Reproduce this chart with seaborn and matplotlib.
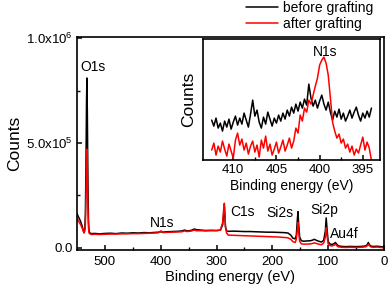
import numpy as np
import pandas as pd
import matplotlib
matplotlib.use('Agg')
import matplotlib.pyplot as plt
import seaborn as sns

# survey spectrum (binding energy in eV, counts)
be_survey = [550, 547, 544, 541, 539, 537.5, 536, 535, 534, 533, 532.3, 531.5, 530.5, 529.5,
             528.5, 527, 524, 518, 510, 500, 490, 480, 470, 460, 450, 440, 430, 420, 410,
             404, 401, 399, 396, 390, 380, 370, 362, 357, 353, 346, 340, 336, 328, 320, 310,
             300, 293, 289, 287, 286, 285, 284, 282, 279, 270, 260, 250, 240, 230, 220, 210,
             200, 190, 180, 172, 167, 163, 159, 157, 155, 154, 153, 151, 148, 144, 138, 132,
             128, 125, 121, 116, 112, 108, 105, 103.5, 102, 100, 97, 93, 89, 87, 85, 82, 76,
             68, 60, 50, 40, 33, 30, 28, 26, 23, 18, 12, 6, 2]
before_survey = [162000, 145000, 128000, 105000, 85000, 72000, 90000, 160000, 380000, 690000,
                 810000, 640000, 320000, 130000, 80000, 70000, 67000, 68000, 66000, 68000,
                 69000, 67000, 70000, 69000, 71000, 70000, 72000, 71000, 73000, 74000, 76000,
                 75000, 74000, 76000, 77000, 78000, 80000, 84000, 80000, 82000, 89000, 86000,
                 84000, 82000, 83000, 82000, 84000, 110000, 170000, 195000, 150000, 100000,
                 80000, 78000, 79000, 78000, 77000, 77000, 76000, 75000, 74000, 74000, 73000,
                 72000, 70000, 60000, 45000, 42000, 60000, 140000, 172000, 120000, 50000,
                 33000, 31000, 32000, 33000, 36000, 40000, 35000, 30000, 27000, 35000, 80000,
                 142000, 90000, 30000, 18000, 15000, 20000, 25000, 18000, 9000, 6000, 5000,
                 6000, 5000, 6000, 8000, 14000, 25000, 14000, 7000, 6000, 7000, 5000, 4000]
after_survey = [140000, 125000, 112000, 95000, 80000, 70000, 80000, 110000, 230000, 410000,
                470000, 380000, 190000, 95000, 70000, 66000, 63000, 64000, 63000, 64000,
                65000, 65000, 66000, 66000, 67000, 67000, 68000, 69000, 70000, 71000, 78000,
                80000, 72000, 73000, 74000, 75000, 76000, 80000, 77000, 79000, 84000, 81000,
                81000, 80000, 81000, 81000, 84000, 120000, 190000, 212000, 165000, 100000,
                70000, 60000, 59000, 58000, 57000, 56000, 55000, 54000, 53000, 52000, 51000,
                49000, 47000, 40000, 28000, 25000, 40000, 90000, 120000, 80000, 30000,
                18000, 17000, 17000, 18000, 20000, 23000, 20000, 16000, 14000, 22000, 50000,
                95000, 60000, 18000, 10000, 8000, 13000, 17000, 11000, 4000, 2000, 1000,
                2000, 1000, 2000, 4000, 9000, 17000, 9000, 3000, 2000, 3000, 1000, 0]

# N1s detail (412.5 eV down to 394.0 eV, 0.25 eV step)
be_n1s = np.arange(412.5, 393.9, -0.25)
before_n1s = [59000, 58400, 59200, 58200, 58700, 57900, 58900, 58300, 59100, 58100,
              58800, 59400, 58500, 59200, 58600, 59700, 59000, 58300, 59600, 61000,
              59400, 60000, 58800, 58200, 59300, 58600, 59800, 59100, 58400, 59200,
              58700, 59500, 58900, 59700, 59100, 60000, 59400, 60300, 59700, 60600,
              59900, 60800, 60200, 61100, 60500, 62600, 61200, 60400, 61000, 60200,
              60900, 61500, 60600, 60000, 60800, 59800, 59000, 59900, 59300, 60100,
              59100, 59700, 58900, 59400, 60000, 59200, 59800, 60300, 59500, 58900,
              59700, 59200, 59900, 59300, 60200]
after_n1s = [56000, 56700, 55500, 56400, 55800, 56900, 56100, 55400, 56600, 55900,
             55200, 57000, 57700, 56500, 57100, 56000, 56700, 55600, 56400, 56900,
             55800, 56500, 55300, 57000, 56200, 57400, 55900, 56600, 55500, 56100,
             56800, 55700, 56300, 57000, 55900, 56500, 57200, 56200, 56900, 58200,
             57700, 59500, 58900, 60200, 59800, 61000, 60600, 61500, 62400, 63200,
             64500, 65000, 65300, 64700, 63500, 61200, 58800, 57900, 57200, 57600,
             56700, 57100, 56200, 56600, 55800, 56400, 55500, 56100, 55700, 56500,
             57300, 56000, 56800, 56200, 55000]

labels = ['before grafting', 'after grafting']
colors = {'before grafting': 'black', 'after grafting': 'red'}

survey = pd.concat([
    pd.DataFrame({'be': be_survey, 'counts': before_survey, 'sample': labels[0]}),
    pd.DataFrame({'be': be_survey, 'counts': after_survey, 'sample': labels[1]}),
])
n1s = pd.concat([
    pd.DataFrame({'be': be_n1s, 'counts': before_n1s, 'sample': labels[0]}),
    pd.DataFrame({'be': be_n1s, 'counts': after_n1s, 'sample': labels[1]}),
])

sns.set_theme(style='ticks', rc={
    'xtick.direction': 'in', 'ytick.direction': 'in',
    'axes.edgecolor': 'black', 'xtick.color': 'black', 'ytick.color': 'black',
    'text.color': 'black', 'axes.labelcolor': 'black',
    'axes.linewidth': 1.2, 'xtick.major.width': 1.1, 'ytick.major.width': 1.1,
    'xtick.minor.width': 1.0, 'ytick.minor.width': 1.0,
    'xtick.major.size': 3.5, 'ytick.major.size': 3.5,
    'xtick.minor.size': 2.2, 'ytick.minor.size': 2.2,
})
plt.rcParams['font.family'] = ['Liberation Sans', 'DejaVu Sans']
plt.rcParams['mathtext.fontset'] = 'custom'
plt.rcParams['mathtext.rm'] = 'Liberation Sans'
plt.rcParams['mathtext.it'] = 'Liberation Sans:italic'

fig = plt.figure(figsize=(3.89, 2.90), dpi=100)
ax = fig.add_axes([0.198, 0.138, 0.789, 0.734])

sns.lineplot(data=survey, x='be', y='counts', hue='sample', hue_order=labels,
             palette=colors, estimator=None, sort=False, lw=1.1, ax=ax)
ax.set_xlim(550, 0)
ax.set_ylim(-1.1e4, 1.005e6)
ax.set_xticks([500, 400, 300, 200, 100, 0])
ax.set_xticks([450, 350, 250, 150, 50], minor=True)
ax.set_yticks([0, 5e5, 1e6])
ax.set_yticklabels(['0.0', '5.0x10$^5$', '1.0x10$^6$'])
ax.set_yticks([2.5e5, 7.5e5], minor=True)
ax.tick_params(labelsize=9.5, pad=3)
ax.tick_params(axis='x', pad=4)
ax.set_xlabel('Binding energy (eV)', fontsize=10.5, labelpad=2)
ax.set_ylabel('Counts', fontsize=12.5, labelpad=3)

handles, _ = ax.get_legend_handles_labels()
ax.get_legend().remove()
fig.legend(handles, labels, loc='upper left', bbox_to_anchor=(0.612, 1.025),
           frameon=False, fontsize=10, handlelength=2.3, handletextpad=0.3,
           labelspacing=0.15, borderpad=0.1)

peaks = [('O1s', 544, 8.6e5, 'left'), ('N1s', 398, 1.2e5, 'center'),
         ('C1s', 254, 1.68e5, 'center'), ('Si2s', 186, 1.66e5, 'center'),
         ('Si2p', 107, 1.8e5, 'center'), ('Au4f', 71, 6.3e4, 'center')]
for name, x, y, ha in peaks:
    ax.text(x, y, name, fontsize=10, ha=ha, va='center')

# inset with the N1s region
ins = fig.add_axes([0.522, 0.448, 0.455, 0.417])
sns.lineplot(data=n1s, x='be', y='counts', hue='sample', hue_order=labels,
             palette=colors, estimator=None, sort=False, lw=1.1, ax=ins, legend=False)
ins.set_xlim(413.5, 393.0)
ins.set_ylim(55000, 67100)
ins.set_xticks([410, 405, 400, 395])
ins.set_xticks([407.5, 402.5, 397.5], minor=True)
ins.set_yticks([])
ins.tick_params(labelsize=9.5, pad=3)
ins.set_xlabel('Binding energy (eV)', fontsize=10, labelpad=2)
ins.set_ylabel('Counts', fontsize=12.5, labelpad=5)
ins.text(399.4, 65800, 'N1s', fontsize=10, ha='center', va='center')

fig.savefig('out.png', dpi=100)
